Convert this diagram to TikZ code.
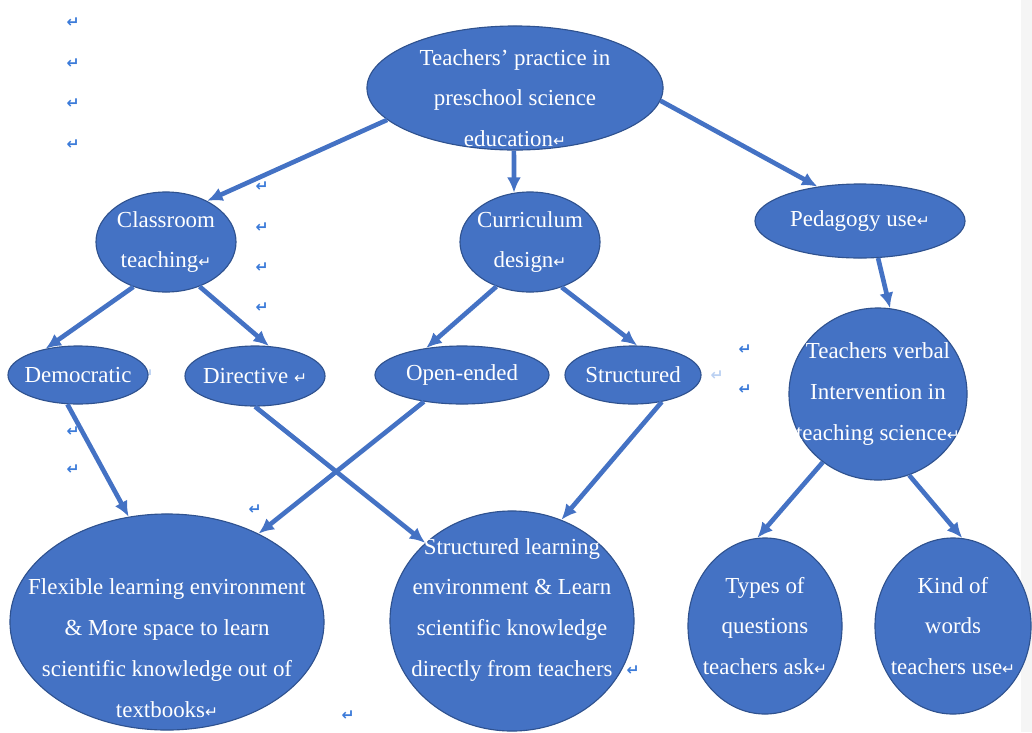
\documentclass[tikz,border=0pt]{standalone}
\usepackage{fontspec}
\setmainfont{Liberation Serif}
\newfontfamily\markfont{DejaVu Sans}
\usetikzlibrary{shapes.geometric,arrows.meta}

\definecolor{bubblue}{HTML}{4472C4}
\definecolor{bubedge}{HTML}{2F528F}
\definecolor{markblue}{HTML}{3C7BD9}

\newcommand\retmark{{\markfont\fontsize{11}{11}\selectfont ↵}}

\tikzset{
  bub/.style={ellipse, fill=bubblue, draw=bubedge, line width=0.8pt, inner sep=0pt},
  txt/.style={text=white, align=center, inner sep=0pt, font=\fontsize{16.3}{29}\selectfont},
  arr/.style={-{Latex[length=11pt,width=10pt]}, line width=3.3pt, draw=bubblue},
  pm/.style={text=markblue, inner sep=0pt, font=\markfont\bfseries\fontsize{11}{11}\selectfont}
}

\begin{document}
\begin{tikzpicture}[x=0.025cm, y=-0.025cm]
	\useasboundingbox (0,0) rectangle (1032,732);
	\fill[gray!8] (1021,0) rectangle (1032,732);

	% paragraph marks
	\foreach \p [count=\i] in {(73,23),(73,64),(73,104),(73,145),(262,187),(262,228),(262,268),(262,308),
	                           (745,350),(745,390),(73,432),(73,470),(255,510),(348,716),(633,671)}
		\node[pm] (m\i) at \p {↵};
	\node[pm, opacity=0.35] (m16) at (147,375) {↵};
	\node[pm, opacity=0.35] (m17) at (717,376) {↵};

	% top level
	\node[bub, minimum width=7.4cm, minimum height=3.1cm,
		label={[txt, yshift=-0.25cm]center:Teachers’ practice in\\preschool science\\education\retmark}] (top) at (515,88) {};

	% second level
	\node[bub, minimum width=3.5cm, minimum height=2.5cm,
		label={[txt]center:Classroom\\teaching\retmark}] (class) at (166,242) {};
	\node[bub, minimum width=3.5cm, minimum height=2.5cm,
		label={[txt]center:Curriculum\\design\retmark}] (curr) at (530,242) {};
	\node[bub, minimum width=5.25cm, minimum height=1.85cm,
		label={[txt]center:Pedagogy use\retmark}] (ped) at (860,221) {};

	% third level
	\node[bub, minimum width=3.5cm, minimum height=1.45cm,
		label={[txt]center:Democratic}] (demo) at (78,375) {};
	\node[bub, minimum width=3.5cm, minimum height=1.5cm,
		label={[txt]center:Directive \retmark}] (dirc) at (255,376) {};
	\node[bub, minimum width=4.35cm, minimum height=1.45cm,
		label={[txt]center:Open-ended}] (open) at (462,375) {};
	\node[bub, minimum width=3.4cm, minimum height=1.45cm,
		label={[txt]center:Structured}] (struc) at (633,375) {};
	\node[bub, minimum width=4.45cm, minimum height=4.3cm,
		label={[txt]center:Teachers verbal\\Intervention in\\teaching science\retmark}] (verbal) at (878,394) {};

	% outcomes
	\node[bub, minimum width=7.85cm, minimum height=5.4cm,
		label={[txt, yshift=-0.65cm]center:Flexible learning environment\\\& More space to learn\\scientific knowledge out of\\textbooks\retmark}] (flex) at (167,622) {};
	\node[bub, minimum width=6.1cm, minimum height=5.5cm,
		label={[txt, yshift=0.28cm]center:Structured learning\\environment \& Learn\\scientific knowledge\\directly from teachers}] (slearn) at (512,621) {};
	\node[bub, minimum width=3.85cm, minimum height=4.4cm,
		label={[txt]center:Types of\\questions\\teachers ask\retmark}] (types) at (765,626) {};
	\node[bub, minimum width=3.9cm, minimum height=4.4cm,
		label={[txt]center:Kind of\\words\\teachers use\retmark}] (kind) at (953,626) {};

	% connectors
	\draw[arr] (top.194) -- (class.45);
	\draw[arr] (top.-91) -- (curr.108);
	\draw[arr] (top.-5) -- (ped.141);
	\draw[arr] (class.234) -- (demo.141);
	\draw[arr] (class.-53) -- (dirc.65);
	\draw[arr] (curr.233) -- (open.143);
	\draw[arr] (curr.-55) -- (struc.82);
	\draw[arr] (ped.-64) -- (verbal.82);
	\draw[arr] (demo.250) -- (flex.110);
	\draw[arr] (dirc.270) -- (slearn.138);
	\draw[arr] (open.215) -- (flex.44);
	\draw[arr] (struc.-43) -- (slearn.64);
	\draw[arr] (verbal.231) -- (types.95);
	\draw[arr] (verbal.-69) -- (kind.84);
\end{tikzpicture}
\end{document}
